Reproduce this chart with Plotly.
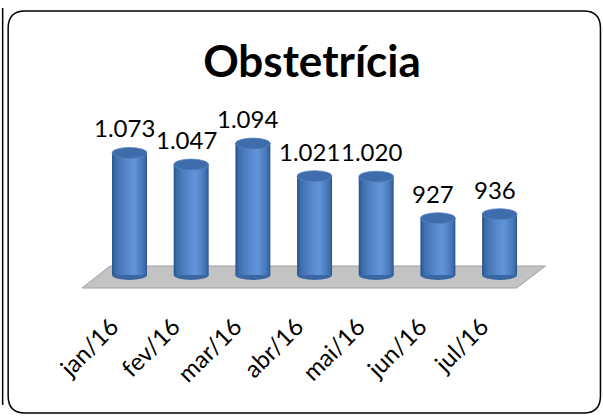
import plotly.graph_objects as go

# ---- data ----
categories = ["jan/16", "fev/16", "mar/16", "abr/16", "mai/16", "jun/16", "jul/16"]
values = [1073, 1047, 1094, 1021, 1020, 927, 936]
title_text = "Obstetrícia"

# ---- axis / layout geometry ----
Y_BASE = 800            # value axis minimum (floor level)
W, H = 603, 420
SP = 61.75              # px per category
X_RANGE = [-0.9, 6.85]
K = 0.447               # px per value unit
T_PX, B_PX = 95, 300    # plot area top/bottom px
BASE_PX = 275           # pixel row of Y_BASE
L_PX = 129.5 + X_RANGE[0] * SP
R_PX = 129.5 + X_RANGE[1] * SP
Y_LO = Y_BASE - (B_PX - BASE_PX) / K
Y_HI = Y_BASE + (BASE_PX - T_PX) / K

FONT = "Lato"


def px2x(px):
    return (px - 129.5) / SP


def px2y(py):
    return Y_BASE + (BASE_PX - py) / K


def px2paper(px, py):
    return (px - L_PX) / (R_PX - L_PX), (B_PX - py) / (B_PX - T_PX)


fig = go.Figure()

# cylinder bodies as stacked overlay bars, simulating a horizontal gradient
BW = 0.567
HL = 0.07
N = 12
edge = (0x2C, 0x58, 0x92)
light = (0x60, 0x93, 0xD8)
for i in range(N):
    t = i / N
    lft = -BW / 2 + t * (HL + BW / 2)
    rgt = BW / 2 - t * (BW / 2 - HL)
    s = (i / (N - 1)) ** 0.55
    col = "rgb(%d,%d,%d)" % tuple(round(e + (l - e) * s) for e, l in zip(edge, light))
    fig.add_trace(go.Bar(
        x=categories, y=[v - Y_BASE for v in values], base=Y_BASE,
        width=rgt - lft, offset=lft,
        marker=dict(color=col, line=dict(width=0)),
        hoverinfo="skip", showlegend=False,
    ))

shapes = []
# floor
fl = [(82, 288), (517, 288), (546, 266), (110, 266)]
path = "M " + " L ".join("%f,%f" % (px2x(a), px2y(b)) for a, b in fl) + " Z"
shapes.append(dict(type="path", path=path, xref="x", yref="y", layer="below",
                   fillcolor="#C3C3C3", line=dict(color="#A0A0A0", width=1)))

ECH = 5.0 / K  # half ellipse height in value units
for i, v in enumerate(values):
    shapes.append(dict(type="circle", xref="x", yref="y", layer="below",
                       x0=i - BW / 2, x1=i + BW / 2, y0=Y_BASE - ECH, y1=Y_BASE + ECH,
                       fillcolor="#3A67A4", line=dict(width=0)))
    shapes.append(dict(type="circle", xref="x", yref="y", layer="above",
                       x0=i - BW / 2, x1=i + BW / 2, y0=v - ECH * 1.1, y1=v + ECH * 1.1,
                       fillcolor="#3F6DAC", line=dict(color="#5683C2", width=0.8)))


# outer rounded frame
def rrect(x0, y0, x1, y1, r):
    def p(x, y):
        u, w = px2paper(x, y)
        return "%f,%f" % (u, w)
    s = "M " + p(x0 + r, y0)
    s += " L " + p(x1 - r, y0) + " Q " + p(x1, y0) + " " + p(x1, y0 + r)
    s += " L " + p(x1, y1 - r) + " Q " + p(x1, y1) + " " + p(x1 - r, y1)
    s += " L " + p(x0 + r, y1) + " Q " + p(x0, y1) + " " + p(x0, y1 - r)
    s += " L " + p(x0, y0 + r) + " Q " + p(x0, y0) + " " + p(x0 + r, y0) + " Z"
    return s


shapes.append(dict(type="path", xref="paper", yref="paper", path=rrect(8, 11, 601, 413, 17),
                   line=dict(color="black", width=1.5), fillcolor="rgba(0,0,0,0)", layer="above"))
u0, v0 = px2paper(2.5, 8)
u1, v1 = px2paper(2.5, 405)
shapes.append(dict(type="line", xref="paper", yref="paper", x0=u0, y0=v0, x1=u1, y1=v1,
                   line=dict(color="black", width=1.5)))

annotations = []
for c, v in zip(categories, values):
    annotations.append(dict(x=c, y=v, xref="x", yref="y", text=f"{v:,}".replace(",", "."),
                            showarrow=False, yshift=25, xshift=-5,
                            font=dict(family=FONT, size=24, color="black")))

fig.update_layout(
    width=W, height=H,
    margin=dict(l=L_PX, r=W - R_PX, t=T_PX, b=H - B_PX, pad=0),
    paper_bgcolor="white", plot_bgcolor="rgba(0,0,0,0)",
    barmode="overlay",
    title=dict(text="<b>" + title_text + "</b>", x=312 / W, xanchor="center",
               y=1 - 62 / H, yanchor="middle", yref="container",
               font=dict(family=FONT, size=44, color="black")),
    xaxis=dict(type="category", range=X_RANGE, showgrid=False, zeroline=False, showline=False,
               ticks="", tickangle=-45, tickfont=dict(family=FONT, size=24, color="black"),
               ticklabelshift=-18, ticklabelstandoff=7),
    yaxis=dict(range=[Y_LO, Y_HI], visible=False),
    shapes=shapes, annotations=annotations,
)

fig.write_html("out.html", config={"displayModeBar": False},
               post_script="document.body.style.margin='0';")
